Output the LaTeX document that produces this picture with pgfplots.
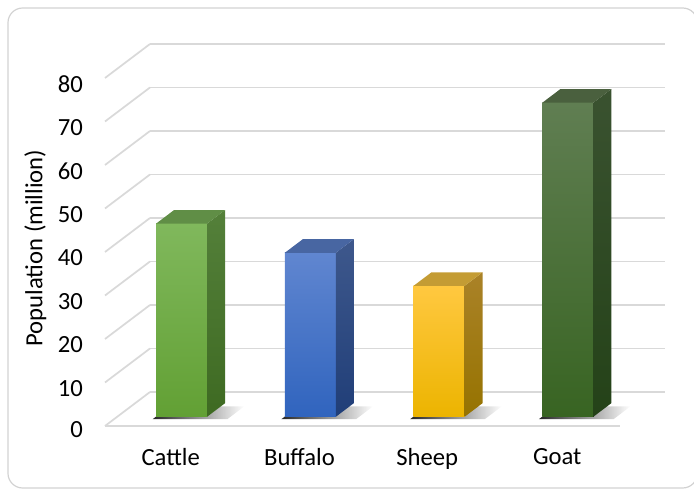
\documentclass[border=0pt]{standalone}
\usepackage{pgfplots}
\pgfplotsset{compat=1.18}
\usepackage{fontspec}
\setmainfont{Carlito}
\definecolor{gridc}{RGB}{217,217,217}
\definecolor{bordc}{RGB}{210,210,210}
% Cattle
\definecolor{caT}{RGB}{128,184,92}\definecolor{caB}{RGB}{98,160,52}
\definecolor{caST}{RGB}{84,128,58}\definecolor{caSB}{RGB}{62,106,34}
\definecolor{caTop}{RGB}{96,142,70}
% Buffalo
\definecolor{buT}{RGB}{96,134,208}\definecolor{buB}{RGB}{48,100,190}
\definecolor{buST}{RGB}{62,88,140}\definecolor{buSB}{RGB}{32,62,120}
\definecolor{buTop}{RGB}{72,102,162}
% Sheep
\definecolor{shT}{RGB}{255,200,64}\definecolor{shB}{RGB}{236,180,0}
\definecolor{shST}{RGB}{170,130,40}\definecolor{shSB}{RGB}{150,115,0}
\definecolor{shTop}{RGB}{196,156,52}
% Goat
\definecolor{goT}{RGB}{96,126,82}\definecolor{goB}{RGB}{56,100,34}
\definecolor{goST}{RGB}{58,82,48}\definecolor{goSB}{RGB}{36,66,24}
\definecolor{goTop}{RGB}{74,96,62}
\begin{document}
\begin{tikzpicture}
\useasboundingbox (0pt,0pt) rectangle (520.5pt,366.75pt);
\draw[bordc, line width=0.9pt, rounded corners=11pt] (6pt,0.75pt) rectangle (523pt,360.75pt);
\begin{axis}[
  at={(78.75pt,47.25pt)}, anchor=origin,
  x={(96.5625pt,0pt)}, y={(33.75pt,25.5pt)}, z={(0pt,3.2625pt)},
  xmin=0, xmax=4, ymin=0, ymax=1, zmin=0, zmax=80,
  clip=false,
  axis line style={draw=none},
  major tick length=0pt,
  xtick={0.5,1.5,2.5,3.5},
  xticklabels={Cattle,Buffalo,Sheep,Goat},
  ytick=\empty,
  ztick={0,10,...,80},
  zmajorgrids=true, xmajorgrids=false, ymajorgrids=false,
  major grid style={gridc, line width=1.3pt},
  /pgf/number format/assume math mode=true,
  tick label style={font=\fontsize{18.5pt}{22pt}\selectfont, text=black},
  xticklabel style={yshift=-13pt, xshift=6pt},
  zticklabel style={xshift=-13pt},
  label style={font=\fontsize{18.5pt}{22pt}\selectfont},
  zlabel={Population (million)},
  zlabel style={xshift=20pt, yshift=1.5pt},
]
% front floor edge
\addplot3[gridc, line width=1.3pt, mark=none] coordinates {(0,0,0) (4,0,0)};
% shadows on floor
\addplot3[draw=none, left color=black, right color=white, mark=none, opacity=0.85] coordinates {(0.30,0.20,0) (0.88,0.20,0) (0.88,0.58,0) (0.30,0.58,0)} -- cycle;
\addplot3[draw=none, left color=black, right color=white, mark=none, opacity=0.85] coordinates {(1.30,0.20,0) (1.88,0.20,0) (1.88,0.58,0) (1.30,0.58,0)} -- cycle;
\addplot3[draw=none, left color=black, right color=white, mark=none, opacity=0.85] coordinates {(2.30,0.20,0) (2.88,0.20,0) (2.88,0.58,0) (2.30,0.58,0)} -- cycle;
\addplot3[draw=none, left color=black, right color=white, mark=none, opacity=0.85] coordinates {(3.30,0.20,0) (3.88,0.20,0) (3.88,0.58,0) (3.30,0.58,0)} -- cycle;
% Cattle 44.4
\addplot3[draw=none, top color=caT, bottom color=caB, mark=none] coordinates {(0.302,0.27,0) (0.698,0.27,0) (0.698,0.27,44.4) (0.302,0.27,44.4)} -- cycle;
\addplot3[draw=none, top color=caST, bottom color=caSB, mark=none] coordinates {(0.698,0.27,0) (0.698,0.67,0) (0.698,0.67,44.4) (0.698,0.27,44.4)} -- cycle;
\addplot3[draw=none, fill=caTop, mark=none] coordinates {(0.302,0.27,44.4) (0.698,0.27,44.4) (0.698,0.67,44.4) (0.302,0.67,44.4)} -- cycle;
% Buffalo 37.7
\addplot3[draw=none, top color=buT, bottom color=buB, mark=none] coordinates {(1.302,0.27,0) (1.698,0.27,0) (1.698,0.27,37.7) (1.302,0.27,37.7)} -- cycle;
\addplot3[draw=none, top color=buST, bottom color=buSB, mark=none] coordinates {(1.698,0.27,0) (1.698,0.67,0) (1.698,0.67,37.7) (1.698,0.27,37.7)} -- cycle;
\addplot3[draw=none, fill=buTop, mark=none] coordinates {(1.302,0.27,37.7) (1.698,0.27,37.7) (1.698,0.67,37.7) (1.302,0.67,37.7)} -- cycle;
% Sheep 30.1
\addplot3[draw=none, top color=shT, bottom color=shB, mark=none] coordinates {(2.302,0.27,0) (2.698,0.27,0) (2.698,0.27,30.1) (2.302,0.27,30.1)} -- cycle;
\addplot3[draw=none, top color=shST, bottom color=shSB, mark=none] coordinates {(2.698,0.27,0) (2.698,0.67,0) (2.698,0.67,30.1) (2.698,0.27,30.1)} -- cycle;
\addplot3[draw=none, fill=shTop, mark=none] coordinates {(2.302,0.27,30.1) (2.698,0.27,30.1) (2.698,0.67,30.1) (2.302,0.67,30.1)} -- cycle;
% Goat 72.2
\addplot3[draw=none, top color=goT, bottom color=goB, mark=none] coordinates {(3.302,0.27,0) (3.698,0.27,0) (3.698,0.27,72.2) (3.302,0.27,72.2)} -- cycle;
\addplot3[draw=none, top color=goST, bottom color=goSB, mark=none] coordinates {(3.698,0.27,0) (3.698,0.67,0) (3.698,0.67,72.2) (3.698,0.27,72.2)} -- cycle;
\addplot3[draw=none, fill=goTop, mark=none] coordinates {(3.302,0.27,72.2) (3.698,0.27,72.2) (3.698,0.67,72.2) (3.302,0.67,72.2)} -- cycle;
\end{axis}
\end{tikzpicture}
\end{document}
